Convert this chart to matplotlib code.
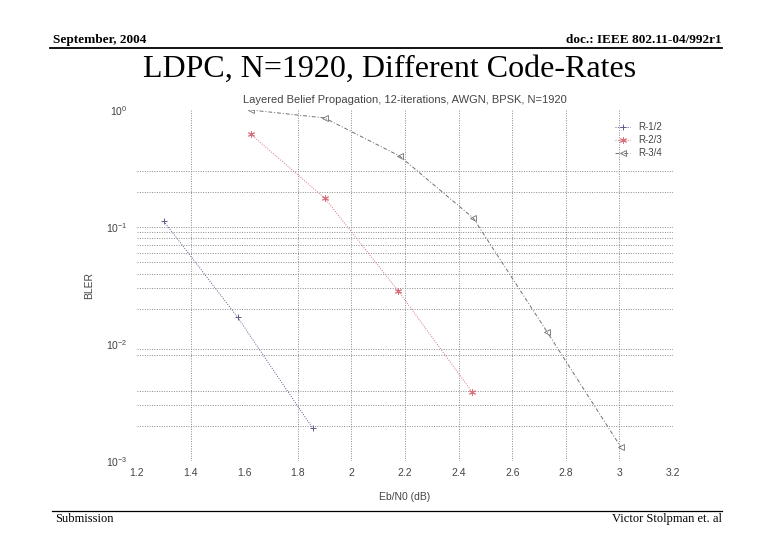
import matplotlib
matplotlib.use("Agg")
import matplotlib.pyplot as plt
from matplotlib.ticker import FixedLocator, NullLocator, LogFormatterSciNotation

# Eb/N0 (dB) and BLER for each code rate
ebn0_r12 = [1.30, 1.575, 1.855]
bler_r12 = [0.112, 0.0170, 0.00191]

ebn0_r23 = [1.625, 1.90, 2.175, 2.45]
bler_r23 = [0.62, 0.177, 0.0284, 0.0039]

ebn0_r34 = [1.625, 1.90, 2.18, 2.455, 2.73, 3.005]
bler_r34 = [1.0, 0.855, 0.404, 0.119, 0.0127, 0.00132]

x_ticks = [1.2, 1.4, 1.6, 1.8, 2.0, 2.2, 2.4, 2.6, 2.8, 3.0, 3.2]
x_tick_labels = ["1.2", "1.4", "1.6", "1.8", "2", "2.2", "2.4", "2.6", "2.8", "3", "3.2"]
y_ticks = [1e-3, 1e-2, 1e-1, 1e0]

# grid lines that survive in the scanned slide
x_grid = [1.4, 1.8, 2.0, 2.2, 2.4, 2.6, 2.8, 3.0]
y_grid = [0.3, 0.2, 0.1, 0.09, 0.08, 0.07, 0.06, 0.05, 0.04, 0.03, 0.02,
          0.009, 0.008, 0.004, 0.003, 0.002]

plt.rcParams["font.family"] = ["Liberation Sans", "DejaVu Sans"]
plt.rcParams["mathtext.fontset"] = "custom"
plt.rcParams["mathtext.rm"] = "Liberation Sans"
plt.rcParams["mathtext.it"] = "Liberation Sans"

fig = plt.figure(figsize=(7.8, 5.4), dpi=100)
fig.patch.set_facecolor("white")

# slide header / footer
serif = ["Liberation Serif", "DejaVu Serif"]
fig.text(53 / 780, 1 - 43 / 540, "September, 2004", family=serif, weight="bold",
         fontsize=9.5, ha="left", va="baseline")
fig.text(722 / 780, 1 - 43 / 540, "doc.: IEEE 802.11-04/992r1", family=serif, weight="bold",
         fontsize=9.5, ha="right", va="baseline")
fig.add_artist(plt.Line2D([50 / 780, 722 / 780], [1 - 48 / 540, 1 - 48 / 540],
                          color="black", lw=1.3))
fig.text(390 / 780, 1 - 77 / 540, "LDPC, N=1920, Different Code-Rates", family=serif,
         fontsize=23, ha="center", va="baseline")
fig.add_artist(plt.Line2D([52 / 780, 722 / 780], [1 - 511 / 540, 1 - 511 / 540],
                          color="black", lw=0.9))
fig.text(55 / 780, 1 - 522 / 540, "Submission", family=serif, fontsize=9,
         ha="left", va="baseline")
fig.text(722 / 780, 1 - 522 / 540, "Victor Stolpman et. al", family=serif, fontsize=9,
         ha="right", va="baseline")

# the chart itself
ax = fig.add_axes([137 / 780, 1 - 461 / 540, 536 / 780, 351 / 540])
ax.set_yscale("log")
ax.set_xlim(1.2, 3.2)
ax.set_ylim(1e-3, 1e0)
for s in ax.spines.values():
    s.set_visible(False)

gc = "#8a8a8a"
ax.vlines(x_grid, 0, 1, transform=ax.get_xaxis_transform(), colors=gc,
          linestyles=(0, (1, 1.5)), lw=0.7, zorder=1)
ax.hlines(y_grid, 0, 1, transform=ax.get_yaxis_transform(), colors=gc,
          linestyles=(0, (1, 1.5)), lw=0.7, zorder=1)

ax.plot(ebn0_r12, bler_r12, color="#5c5c8c", ls=(0, (1, 1.5)), lw=0.7,
        marker="+", ms=5, mew=0.7, label="R-1/2", zorder=3)
ax.plot(ebn0_r23, bler_r23, color="#d8707e", ls=(0, (1, 1.5)), lw=0.7,
        marker=(6, 2, 0), ms=5, mew=0.7, label="R-2/3", zorder=3)
ax.plot(ebn0_r34, bler_r34, color="#707070", ls=(0, (4, 2, 1, 2)), lw=0.7,
        marker="<", ms=4, mew=0.6, fillstyle="none", label="R-3/4", zorder=3)

tc = "#444444"
ax.xaxis.set_major_locator(FixedLocator(x_ticks))
ax.set_xticklabels(x_tick_labels)
ax.yaxis.set_major_locator(FixedLocator(y_ticks))
ax.yaxis.set_major_formatter(LogFormatterSciNotation())
ax.yaxis.set_minor_locator(NullLocator())
ax.tick_params(axis="both", length=0, labelsize=7.5, labelcolor=tc)
ax.tick_params(axis="x", pad=5)
ax.tick_params(axis="y", pad=7)

ax.set_xlabel("Eb/N0 (dB)", fontsize=7.5, color=tc, labelpad=10)
ax.set_ylabel("BLER", fontsize=7.5, color=tc, labelpad=8)
ax.set_title("Layered Belief Propagation, 12-iterations, AWGN, BPSK, N=1920",
             fontsize=8, color=tc, pad=5)

leg = ax.legend(loc="upper right", bbox_to_anchor=(0.995, 0.99), fontsize=7,
                frameon=False, handlelength=1.5, labelspacing=0.3, borderpad=0.4)
for t in leg.get_texts():
    t.set_color(tc)

fig.savefig("out.png", dpi=100, facecolor="white")
